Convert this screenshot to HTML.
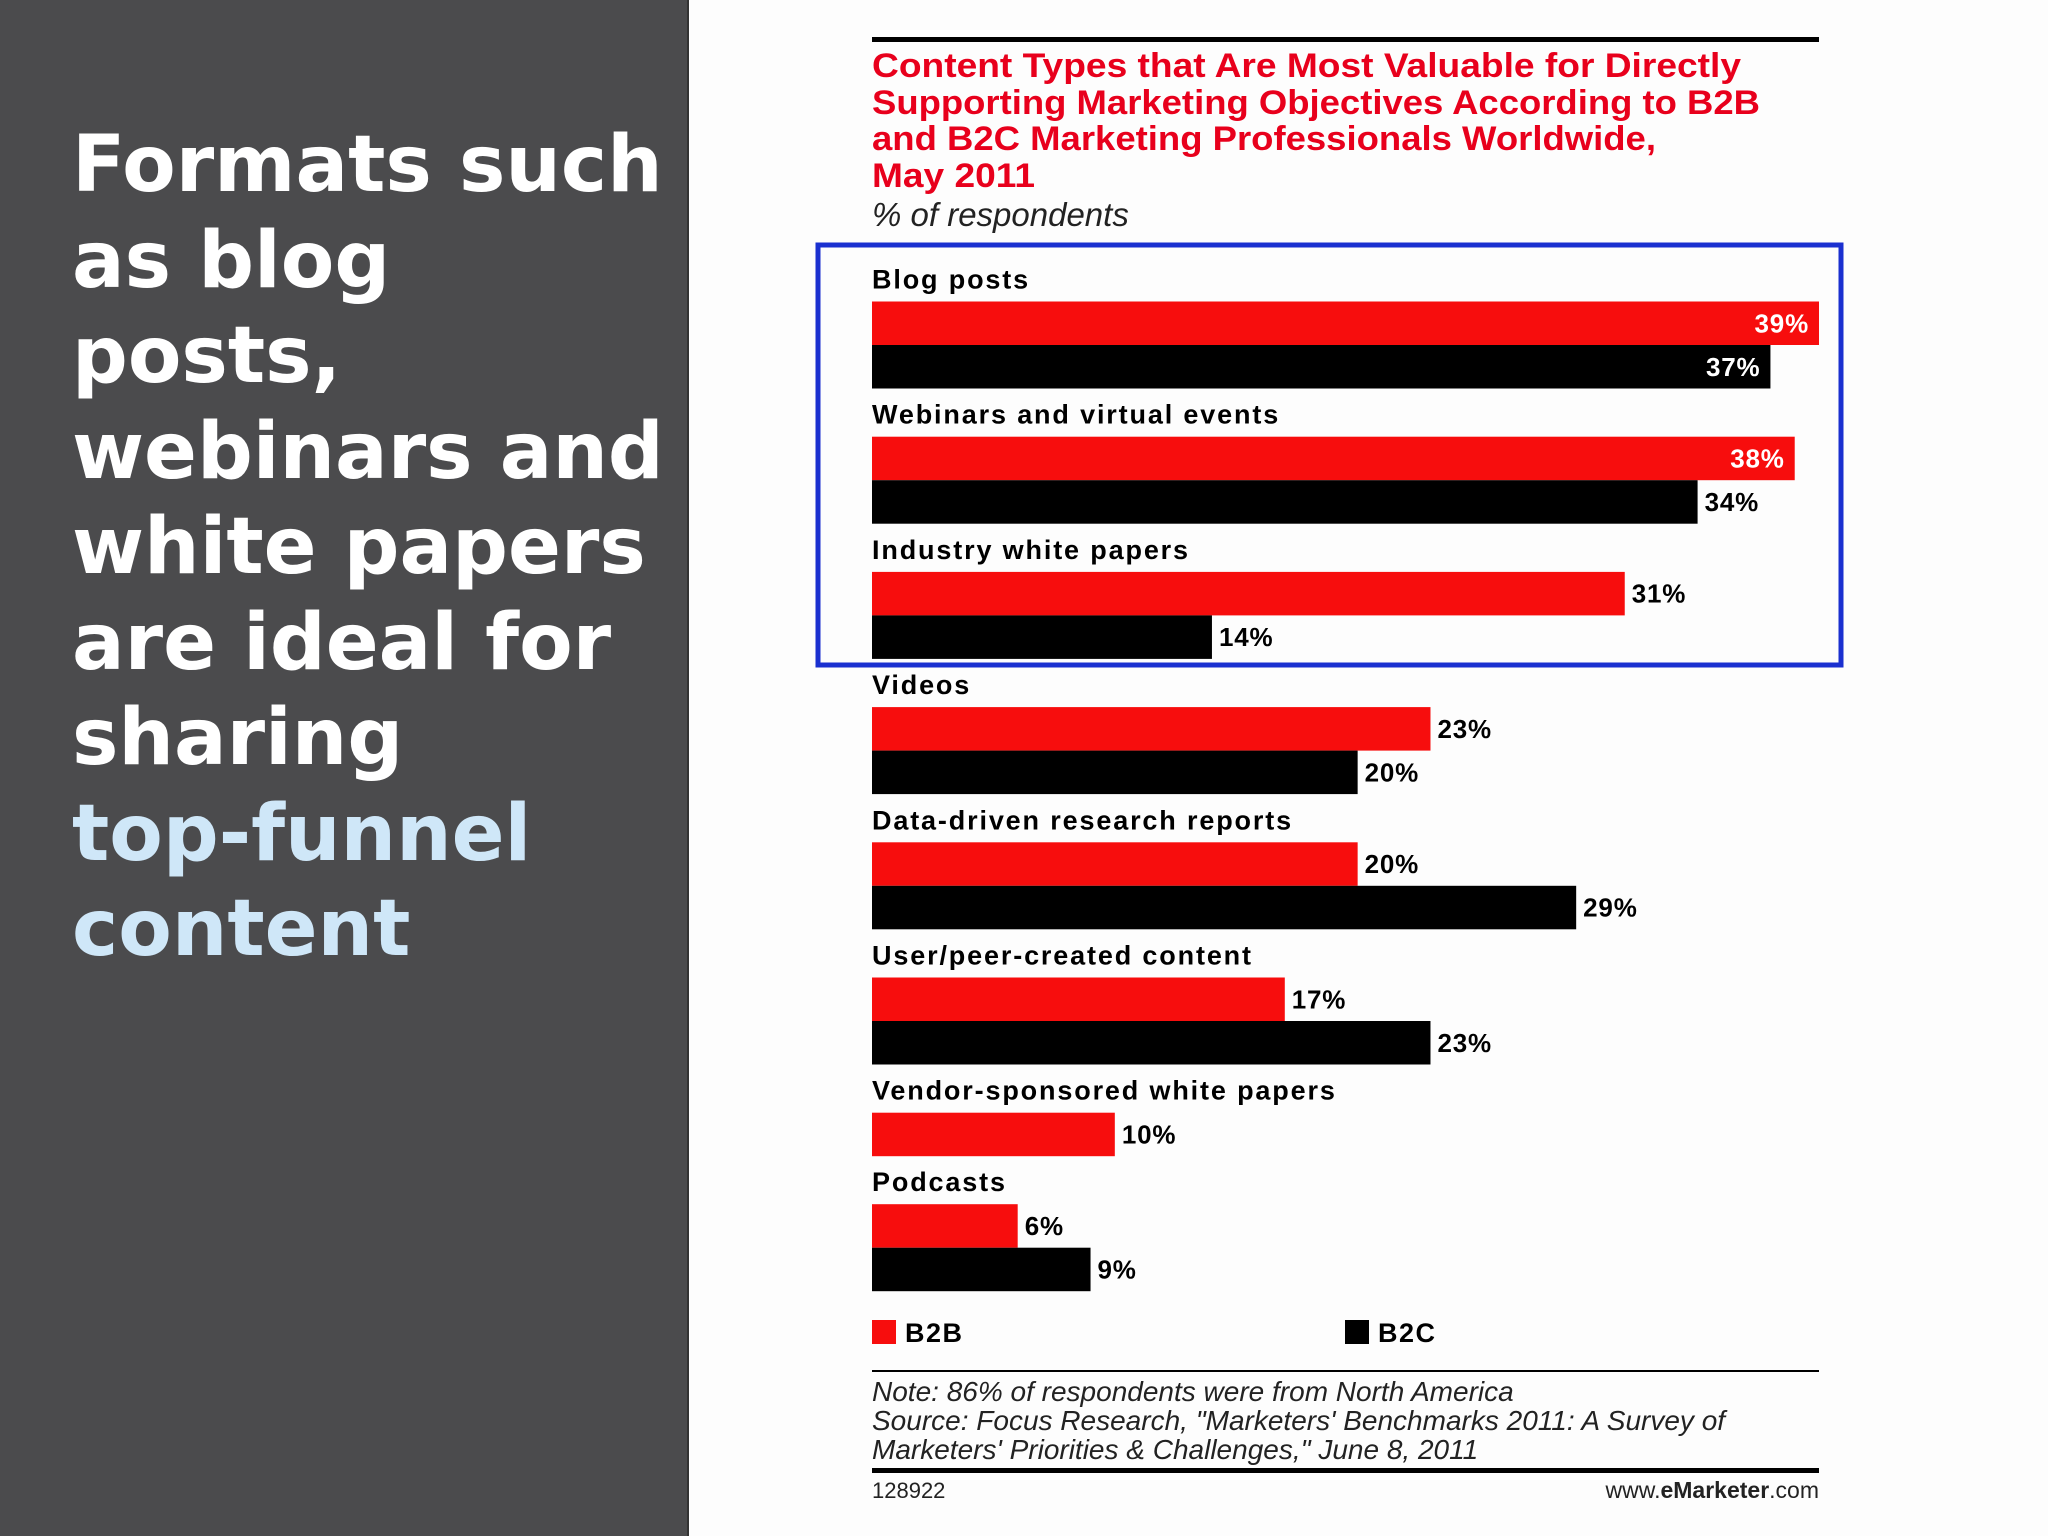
<!DOCTYPE html>
<html><head><meta charset="utf-8">
<style>
html,body{margin:0;padding:0;width:2048px;height:1536px;overflow:hidden;background:#fdfdfd;}
#left{position:absolute;left:0;top:0;width:687px;height:1536px;background:#4b4b4d;border-right:2px solid #333;}
#headline{position:absolute;left:72px;top:118px;font-family:"DejaVu Sans",sans-serif;font-weight:bold;font-size:78px;line-height:95.5px;color:#fff;white-space:nowrap;}
#headline .hl{color:#cfe7f8;}
svg{position:absolute;left:0;top:0;}
</style></head>
<body>
<div id="left">
<div id="headline">Formats such<br>as blog<br>posts,<br>webinars and<br>white papers<br>are ideal for<br>sharing<br><span class="hl">top-funnel<br>content</span></div>
</div>
<svg id="chart" width="2048" height="1536" font-family="Liberation Sans, sans-serif">
<rect x="872" y="37" width="947" height="5" fill="#000"/>
<g fill="#e8001c" font-weight="bold" font-size="34">
<text x="872" y="77" textLength="869" lengthAdjust="spacingAndGlyphs">Content Types that Are Most Valuable for Directly</text>
<text x="872" y="114" textLength="888" lengthAdjust="spacingAndGlyphs">Supporting Marketing Objectives According to B2B</text>
<text x="872" y="150" textLength="784" lengthAdjust="spacingAndGlyphs">and B2C Marketing Professionals Worldwide,</text>
<text x="872" y="187" textLength="163" lengthAdjust="spacingAndGlyphs">May 2011</text>
</g>
<text x="872" y="226" font-style="italic" font-size="33" fill="#222">% of respondents</text>
<rect x="818" y="245" width="1023" height="420" fill="none" stroke="#1a30d0" stroke-width="5"/>
<g id="bars"></g>
<rect x="872" y="1320" width="24" height="24" fill="#f70d0d"/>
<text x="905" y="1342" font-weight="bold" font-size="27" letter-spacing="1.5">B2B</text>
<rect x="1345" y="1320" width="24" height="24" fill="#000"/>
<text x="1378" y="1342" font-weight="bold" font-size="27" letter-spacing="1.5">B2C</text>
<rect x="872" y="1370" width="947" height="2" fill="#000"/>
<g font-style="italic" font-size="28" fill="#222">
<text x="872" y="1401">Note: 86% of respondents were from North America</text>
<text x="872" y="1430">Source: Focus Research, "Marketers' Benchmarks 2011: A Survey of</text>
<text x="872" y="1459">Marketers' Priorities &amp; Challenges," June 8, 2011</text>
</g>
<rect x="872" y="1468" width="947" height="5" fill="#000"/>
<text x="872" y="1498" font-size="22" fill="#222">128922</text>
<text x="1819" y="1498" font-size="23" fill="#222" text-anchor="end">www.<tspan font-weight="bold">eMarketer</tspan>.com</text>
</svg>
<script>
const categories=["Blog posts","Webinars and virtual events","Industry white papers","Videos","Data-driven research reports","User/peer-created content","Vendor-sponsored white papers","Podcasts"];
const b2b=[39,38,31,23,20,17,10,6];
const b2c=[37,34,14,20,29,23,null,9];
const ns="http://www.w3.org/2000/svg";
const g=document.getElementById('bars');
const x0=872,pxPer=(1819-872)/39,barH=43.5;
const xs=v=>v*pxPer;
function mk(tag,attrs){const e=document.createElementNS(ns,tag);for(const k in attrs)e.setAttribute(k,attrs[k]);g.appendChild(e);return e;}
let y=279.5;
categories.forEach((c,i)=>{
  const t=mk('text',{x:x0,y:y+9,'font-weight':'bold','font-size':27,'letter-spacing':1.85});
  
  
  t.textContent=c;
  let by=y+22;
  [[b2b[i],'#f70d0d','b2b'],[b2c[i],'#000','b2c']].forEach(([v,col,s])=>{
    if(v==null)return;
    const w=xs(v);
    const r=mk('rect',{x:x0,y:by,width:w,height:barH,fill:col});
    
    
    const inside=v>=36;
    const l=mk('text',{x:inside?x0+w-10:x0+w+7,y:by+barH/2+9,'font-weight':'bold','font-size':26,'letter-spacing':0.8,fill:inside?'#fff':'#000','text-anchor':inside?'end':'start'});
    
    
    l.textContent=v+'%';
    by+=barH;
  });
  y+= (b2c[i]==null)?91.5:135.2;
});
</script>
</body></html>
